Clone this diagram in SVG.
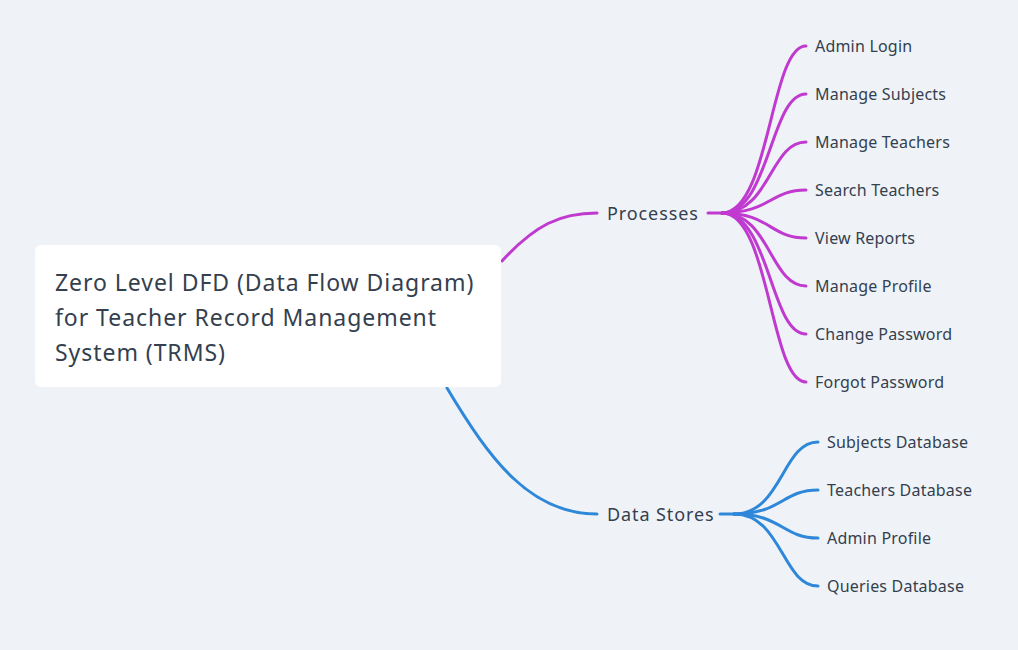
<svg xmlns="http://www.w3.org/2000/svg" width="1018" height="650" viewBox="0 0 1018 650">
<style>
.t{font-family:"Noto Sans","Liberation Sans",sans-serif;fill:#34404e}
.root{font-size:23px;letter-spacing:0.95px}
.mid{font-size:18px;letter-spacing:0.9px}
.leaf{font-size:16px;letter-spacing:0.2px}
.p{fill:none;stroke:#c03ad0;stroke-width:3;stroke-linecap:round}
.d{fill:none;stroke:#2f87d9;stroke-width:3;stroke-linecap:round}
</style>
<rect width="1018" height="650" fill="#eff3f7"/>
<g id="connectors">
<path class="p" d="M502 261 C535 225 560 213 597 213"/>
<path class="d" d="M447 388 C490 460 530 514 597 514"/>
<path class="p" d="M708 213 H722"/>
<path class="p" d="M722 213 C770 213 770 46 806 46"/>
<path class="p" d="M722 213 C770 213 770 94 806 94"/>
<path class="p" d="M722 213 C770 213 770 142 806 142"/>
<path class="p" d="M722 213 C770 213 770 190 806 190"/>
<path class="p" d="M722 213 C770 213 770 238 806 238"/>
<path class="p" d="M722 213 C770 213 770 286 806 286"/>
<path class="p" d="M722 213 C770 213 770 334 806 334"/>
<path class="p" d="M722 213 C770 213 770 382 806 382"/>
<path class="d" d="M720 514 H734"/>
<path class="d" d="M734 514 C782 514 782 442 818 442"/>
<path class="d" d="M734 514 C782 514 782 490 818 490"/>
<path class="d" d="M734 514 C782 514 782 538 818 538"/>
<path class="d" d="M734 514 C782 514 782 586 818 586"/>
</g>
<g id="root">
<rect x="35" y="245" width="466" height="142" rx="6" fill="#ffffff"/>
<text class="t root" x="55" y="291">Zero Level DFD (Data Flow Diagram)</text>
<text class="t root" x="55" y="326">for Teacher Record Management</text>
<text class="t root" x="55" y="361">System (TRMS)</text>
</g>
<g id="processes"><text class="t mid" x="607" y="220">Processes</text></g>
<g id="datastores"><text class="t mid" x="607" y="521">Data Stores</text></g>
<g id="p1"><text class="t leaf" x="815" y="52">Admin Login</text></g>
<g id="p2"><text class="t leaf" x="815" y="100">Manage Subjects</text></g>
<g id="p3"><text class="t leaf" x="815" y="148">Manage Teachers</text></g>
<g id="p4"><text class="t leaf" x="815" y="196">Search Teachers</text></g>
<g id="p5"><text class="t leaf" x="815" y="244">View Reports</text></g>
<g id="p6"><text class="t leaf" x="815" y="292">Manage Profile</text></g>
<g id="p7"><text class="t leaf" x="815" y="340">Change Password</text></g>
<g id="p8"><text class="t leaf" x="815" y="388">Forgot Password</text></g>
<g id="d1"><text class="t leaf" x="827" y="448">Subjects Database</text></g>
<g id="d2"><text class="t leaf" x="827" y="496">Teachers Database</text></g>
<g id="d3"><text class="t leaf" x="827" y="544">Admin Profile</text></g>
<g id="d4"><text class="t leaf" x="827" y="592">Queries Database</text></g>
</svg>
